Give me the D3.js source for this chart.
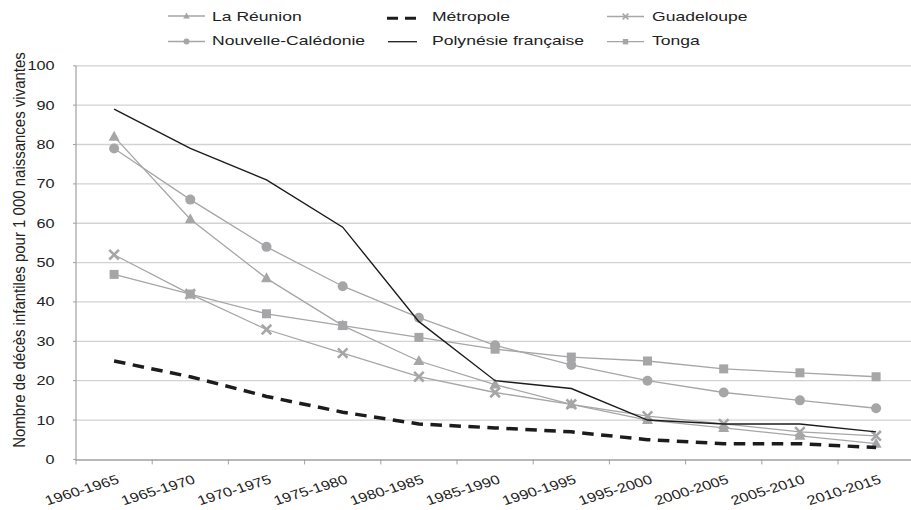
<!DOCTYPE html>
<html>
<head>
<meta charset="utf-8">
<script src="https://cdn.jsdelivr.net/npm/d3@7"></script>
<style>
  html, body { margin: 0; padding: 0; background: #fff; }
  svg { display: block; font-family: "Liberation Sans", Arial, Helvetica, sans-serif; }
</style>
</head>
<body>
<svg id="chart" width="911" height="510"></svg>
<script>
// ---- Data ----
const categories = ["1960-1965","1965-1970","1970-1975","1975-1980","1980-1985","1985-1990","1990-1995","1995-2000","2000-2005","2005-2010","2010-2015"];
const laReunion         = [82, 61, 46, 34, 25, 19, 14, 10, 8, 6, 4];
const nouvelleCaledonie = [79, 66, 54, 44, 36, 29, 24, 20, 17, 15, 13];
const polynesie         = [89, 79, 71, 59, 35, 20, 18, 10, 9, 9, 7];
const metropole         = [25, 21, 16, 12, 9, 8, 7, 5, 4, 4, 3];
const guadeloupe        = [52, 42, 33, 27, 21, 17, 14, 11, 9, 7, 6];
const tonga             = [47, 42, 37, 34, 31, 28, 26, 25, 23, 22, 21];
const yTicks = [0, 10, 20, 30, 40, 50, 60, 70, 80, 90, 100];
const yTitle = "Nombre de décès infantiles pour 1 000 naissances vivantes";

const series = [
  { name: "La Réunion", values: laReunion, kind: "triangle" },
  { name: "Nouvelle-Calédonie", values: nouvelleCaledonie, kind: "circle" },
  { name: "Métropole", values: metropole, kind: "dash" },
  { name: "Polynésie française", values: polynesie, kind: "solid" },
  { name: "Guadeloupe", values: guadeloupe, kind: "cross" },
  { name: "Tonga", values: tonga, kind: "square" }
];

// ---- Layout ----
const svg = d3.select("#chart");
const GREY = "#a6a6a8";
const DARK = "#1c1c1c";
const TEXT = "#222";
const x0 = 76, band = 76.2;
const x = d3.scaleBand().domain(categories).range([x0, x0 + band * categories.length]).paddingInner(0).paddingOuter(0);
const y = d3.scaleLinear().domain([0, 100]).range([459.4, 65.8]);
const cx = c => x(c) + x.bandwidth() / 2;

// gridlines
svg.append("g").selectAll("line").data(yTicks.filter(d => d > 0)).join("line")
  .attr("x1", x0).attr("x2", 911)
  .attr("y1", d => y(d)).attr("y2", d => y(d))
  .attr("stroke", "#d2d2d2").attr("stroke-width", 1.3);

// axes lines
svg.append("line").attr("x1", x0).attr("x2", x0).attr("y1", y(100)).attr("y2", y(0) + 0.6)
  .attr("stroke", "#a0a0a0").attr("stroke-width", 1.2);
svg.append("line").attr("x1", x0 - 0.6).attr("x2", 911).attr("y1", y(0) + 0.6).attr("y2", y(0) + 0.6)
  .attr("stroke", "#a0a0a0").attr("stroke-width", 1.3);
// y ticks small
svg.append("g").selectAll("line").data(yTicks).join("line")
  .attr("x1", x0 - 3).attr("x2", x0).attr("y1", d => y(d)).attr("y2", d => y(d))
  .attr("stroke", "#a0a0a0").attr("stroke-width", 1);
// x ticks at band boundaries
const bounds = d3.range(categories.length + 1).map(i => x0 + i * x.step());
svg.append("g").selectAll("line").data(bounds).join("line")
  .attr("x1", d => d).attr("x2", d => d).attr("y1", y(0)).attr("y2", y(0) + 5)
  .attr("stroke", "#a0a0a0").attr("stroke-width", 1);

// y tick labels
svg.append("g").selectAll("text").data(yTicks).join("text")
  .attr("transform", d => `translate(54.5,${y(d) + 4.5}) scale(1.3,1)`)
  .attr("text-anchor", "end").attr("font-size", 12.5).attr("fill", TEXT)
  .text(d => d);

// x tick labels
svg.append("g").selectAll("text").data(categories).join("text")
  .attr("transform", d => `translate(${cx(d) + 6},483) scale(1.25,1) rotate(-21)`)
  .attr("text-anchor", "end").attr("font-size", 13).attr("fill", TEXT)
  .text(d => d);

// y title
svg.append("text")
  .attr("transform", "translate(25,250) scale(1.12,1) rotate(-90)")
  .attr("text-anchor", "middle").attr("font-size", 15).attr("fill", TEXT)
  .text(yTitle);

// ---- markers ----
function drawMarker(g, kind, px, py, s) {
  s = s || 1;
  if (kind === "triangle") {
    const w = 11 * s, h = 10 * s;
    g.append("path").attr("d", `M${px},${py - h * 0.6}L${px + w / 2},${py + h * 0.4}L${px - w / 2},${py + h * 0.4}Z`).attr("fill", GREY);
  } else if (kind === "circle") {
    g.append("circle").attr("cx", px).attr("cy", py).attr("r", 5 * s).attr("fill", GREY);
  } else if (kind === "square") {
    const a = 9 * s;
    g.append("rect").attr("x", px - a / 2).attr("y", py - a / 2).attr("width", a).attr("height", a).attr("fill", GREY);
  } else if (kind === "cross") {
    const a = 4.8 * s;
    g.append("path").attr("d", `M${px - a},${py - a}L${px + a},${py + a}M${px - a},${py + a}L${px + a},${py - a}`)
      .attr("stroke", GREY).attr("stroke-width", 2.6 * s).attr("fill", "none");
  }
}

const line = d3.line().x((d, i) => cx(categories[i])).y(d => y(d));
const plot = svg.append("g");
const order = ["La Réunion", "Nouvelle-Calédonie", "Guadeloupe", "Tonga", "Polynésie française", "Métropole"];
order.forEach(nm => {
  const s = series.find(d => d.name === nm);
  const g = plot.append("g");
  const p = g.append("path").datum(s.values).attr("d", line).attr("fill", "none");
  if (s.kind === "dash") {
    p.attr("stroke", DARK).attr("stroke-width", 3.5).attr("stroke-dasharray", "11.5,7.5");
  } else if (s.kind === "solid") {
    p.attr("stroke", DARK).attr("stroke-width", 1.4);
  } else {
    p.attr("stroke", GREY).attr("stroke-width", 1.3);
    s.values.forEach((v, i) => drawMarker(g, s.kind, cx(categories[i]), y(v), 1));
  }
});

// ---- legend ----
const legendItems = [
  { name: "La Réunion", kind: "triangle", lx: 168, ly: 16, tx: 212, ty: 20.7 },
  { name: "Métropole", kind: "dash", lx: 387, ly: 18.3, tx: 432, ty: 20.7 },
  { name: "Guadeloupe", kind: "cross", lx: 607, ly: 16.5, tx: 652, ty: 20.7 },
  { name: "Nouvelle-Calédonie", kind: "circle", lx: 168, ly: 41.5, tx: 212, ty: 45 },
  { name: "Polynésie française", kind: "solid", lx: 387, ly: 41.7, tx: 432, ty: 45 },
  { name: "Tonga", kind: "square", lx: 607, ly: 41.7, tx: 652, ty: 45 }
];
const lg = svg.append("g");
legendItems.forEach(it => {
  if (it.kind === "dash") {
    lg.append("line").attr("x1", it.lx).attr("x2", it.lx + 30).attr("y1", it.ly).attr("y2", it.ly)
      .attr("stroke", DARK).attr("stroke-width", 3).attr("stroke-dasharray", "11,7");
  } else if (it.kind === "solid") {
    lg.append("line").attr("x1", it.lx + 1).attr("x2", it.lx + 30).attr("y1", it.ly).attr("y2", it.ly)
      .attr("stroke", DARK).attr("stroke-width", 1.3);
  } else {
    lg.append("line").attr("x1", it.lx).attr("x2", it.lx + 37).attr("y1", it.ly).attr("y2", it.ly)
      .attr("stroke", GREY).attr("stroke-width", 1.3);
    drawMarker(lg, it.kind, it.lx + 18.5, it.ly, 0.6);
  }
  lg.append("text").attr("transform", `translate(${it.tx},${it.ty}) scale(1.35,1)`)
    .attr("font-size", 13).attr("fill", TEXT).text(it.name);
});
</script>
</body>
</html>
